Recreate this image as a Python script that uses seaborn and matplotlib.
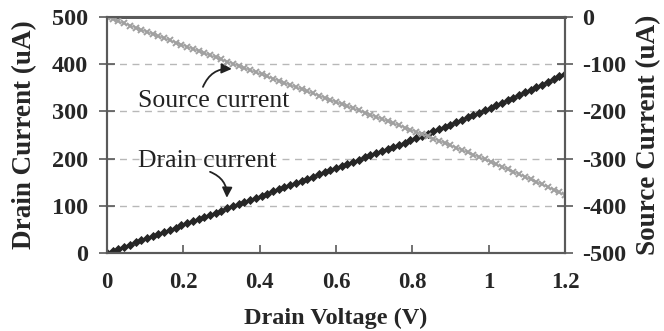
import matplotlib
matplotlib.use("Agg")
import matplotlib.pyplot as plt
import seaborn as sns
import pandas as pd

# Drain voltage sweep (V)
voltage = [
    0.000, 0.015, 0.030, 0.045, 0.060, 0.075, 0.090, 0.105, 0.120, 0.135,
    0.150, 0.165, 0.180, 0.195, 0.210, 0.225, 0.240, 0.255, 0.270, 0.285,
    0.300, 0.315, 0.330, 0.345, 0.360, 0.375, 0.390, 0.405, 0.420, 0.435,
    0.450, 0.465, 0.480, 0.495, 0.510, 0.525, 0.540, 0.555, 0.570, 0.585,
    0.600, 0.615, 0.630, 0.645, 0.660, 0.675, 0.690, 0.705, 0.720, 0.735,
    0.750, 0.765, 0.780, 0.795, 0.810, 0.825, 0.840, 0.855, 0.870, 0.885,
    0.900, 0.915, 0.930, 0.945, 0.960, 0.975, 0.990, 1.005, 1.020, 1.035,
    1.050, 1.065, 1.080, 1.095, 1.110, 1.125, 1.140, 1.155, 1.170, 1.185,
    1.200,
]

# Drain current (uA), left axis
drain_current = [
    0.0, 4.5, 9.0, 13.5, 18.0, 22.5, 27.0, 31.5, 36.0, 40.5,
    45.0, 49.5, 54.0, 58.5, 63.0, 67.5, 72.0, 76.5, 81.0, 85.5,
    90.0, 94.5, 99.0, 103.5, 108.0, 112.5, 117.0, 121.5, 126.0, 130.5,
    135.0, 139.5, 144.0, 148.5, 153.0, 157.5, 162.0, 166.5, 171.0, 175.5,
    180.0, 184.5, 189.0, 193.5, 198.0, 202.5, 207.0, 211.5, 216.0, 220.5,
    225.0, 229.5, 234.1, 238.7, 243.4, 248.1, 252.8, 257.6, 262.4, 267.3,
    272.2, 277.2, 282.2, 287.3, 292.4, 297.5, 302.7, 307.9, 313.2, 318.5,
    323.9, 329.3, 334.8, 340.3, 345.8, 351.4, 357.0, 362.7, 368.4, 374.2,
    380.0,
]

# Source current (uA), right axis
source_current = [
    0.0, -4.5, -9.0, -13.5, -18.0, -22.5, -27.0, -31.5, -36.0, -40.5,
    -45.0, -49.5, -54.0, -58.5, -63.0, -67.5, -72.0, -76.5, -81.0, -85.5,
    -90.0, -94.5, -99.0, -103.5, -108.0, -112.5, -117.0, -121.5, -126.0, -130.5,
    -135.0, -139.5, -144.0, -148.5, -153.0, -157.5, -162.0, -166.5, -171.0, -175.5,
    -180.0, -184.5, -189.0, -193.5, -198.0, -202.5, -207.0, -211.5, -216.0, -220.5,
    -225.0, -229.5, -234.1, -238.7, -243.3, -248.0, -252.7, -257.4, -262.2, -267.0,
    -271.9, -276.8, -281.7, -286.7, -291.7, -296.8, -301.8, -307.0, -312.1, -317.3,
    -322.6, -327.8, -333.2, -338.5, -343.9, -349.3, -354.8, -360.3, -365.8, -371.4,
    -377.0,
]

x_ticks = [0, 0.2, 0.4, 0.6, 0.8, 1.0, 1.2]
x_tick_labels = ["0", "0.2", "0.4", "0.6", "0.8", "1", "1.2"]
left_ticks = [0, 100, 200, 300, 400, 500]
right_ticks = [-500, -400, -300, -200, -100, 0]

df = pd.DataFrame({
    "Drain Voltage (V)": voltage,
    "Drain Current (uA)": drain_current,
    "Source Current (uA)": source_current,
})

sns.set_theme(style="white")
plt.rcParams["font.family"] = ["Liberation Serif", "DejaVu Serif"]
plt.rcParams["axes.unicode_minus"] = False

fig = plt.figure(figsize=(6.64, 3.31), dpi=100)
ax = fig.add_axes([0.1611, 0.2356, 0.6898, 0.713])
ax2 = ax.twinx()

sns.lineplot(data=df, x="Drain Voltage (V)", y="Drain Current (uA)", ax=ax,
             estimator=None, color="#262626", linewidth=1.0, marker="D",
             markersize=4.3, markeredgewidth=0.6, markeredgecolor="#262626")
sns.lineplot(data=df, x="Drain Voltage (V)", y="Source Current (uA)", ax=ax2,
             estimator=None, color="#a8a8a8", linewidth=1.0, marker="x",
             markersize=4.5, markeredgewidth=1.4, markeredgecolor="#a0a0a0")

ax.set_xlim(0, 1.2)
ax.set_ylim(0, 500)
ax2.set_ylim(-500, 0)
ax.set_xticks(x_ticks)
ax.set_xticklabels(x_tick_labels)
ax.set_yticks(left_ticks)
ax2.set_yticks(right_ticks)

ax.yaxis.grid(True, linestyle=(0, (5, 4)), color="#b8b8b8", linewidth=1.0)
ax.xaxis.grid(False)
ax2.grid(False)

spine_color = "#5a5a5a"
for a in (ax, ax2):
    for side, sp in a.spines.items():
        sp.set_color(spine_color)
        sp.set_linewidth(1.5)
ax.spines["top"].set_linewidth(2.0)
ax.spines["top"].set_color("#4a4a4a")

ax.tick_params(axis="y", direction="inout", length=11, width=1.2,
               color=spine_color, labelsize=17.5, pad=8, left=True)
ax.tick_params(axis="x", direction="in", length=6, width=1.2,
               color=spine_color, labelsize=16.5, pad=14, bottom=True)
ax2.tick_params(axis="y", direction="inout", length=11, width=1.2,
                color=spine_color, labelsize=17.5, pad=6.5, right=True)

for lab in ax.get_xticklabels() + ax.get_yticklabels() + ax2.get_yticklabels():
    lab.set_fontweight("bold")

ax.set_xlabel("Drain Voltage (V)", fontsize=17.5, fontweight="bold", labelpad=10)
ax.set_ylabel("Drain Current (uA)", fontsize=19.5, fontweight="bold", labelpad=11)
ax2.set_ylabel("Source Current (uA)", fontsize=19.5, fontweight="bold", labelpad=7)

# Curve labels with curved pointer arrows
ax.text(0.081, 309, "Source current", fontsize=18.5, ha="left", va="baseline",
        color="#222222")
ax.annotate("", xy=(0.327, 390), xytext=(0.2515, 352),
            arrowprops=dict(arrowstyle="-|>,head_length=0.5,head_width=0.25",
                            connectionstyle="arc3,rad=-0.35",
                            color="#222222", lw=1.3, shrinkA=0, shrinkB=0))
ax.text(0.081, 182, "Drain current", fontsize=18.5, ha="left", va="baseline",
        color="#222222")
ax.annotate("", xy=(0.314, 117), xytext=(0.27, 172),
            arrowprops=dict(arrowstyle="-|>,head_length=0.5,head_width=0.25",
                            connectionstyle="arc3,rad=-0.35",
                            color="#222222", lw=1.3, shrinkA=0, shrinkB=0))

fig.savefig("out.png", dpi=100)
